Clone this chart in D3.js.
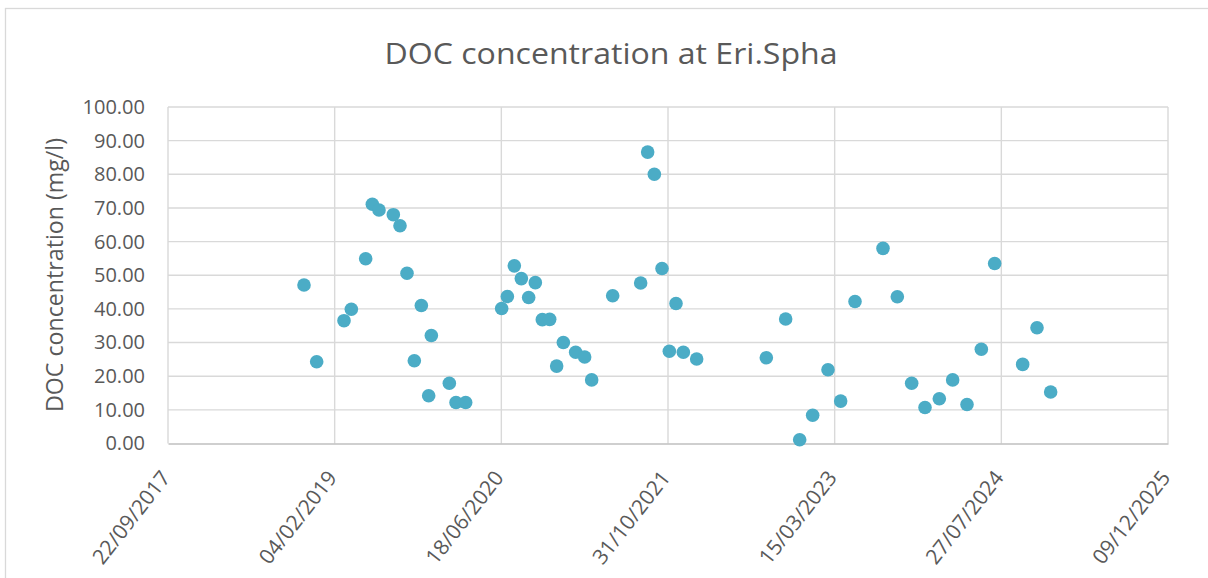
<!DOCTYPE html>
<html>
<head>
<meta charset="utf-8">
<script src="https://cdn.jsdelivr.net/npm/d3@7"></script>
<style>
  html, body { margin: 0; padding: 0; background: #fff; }
  svg { display: block; }
  text { font-family: "Open Sans", "Noto Sans", sans-serif; fill: #595959; }
</style>
</head>
<body>
<svg id="chart" width="1208" height="578"></svg>
<script>
// Sampling dates and measured DOC concentrations (mg/l)
const sampleDates = [
  "2018-11-04","2018-12-12",
  "2019-03-04","2019-03-26","2019-05-08","2019-05-28","2019-06-17","2019-07-30",
  "2019-08-19","2019-09-09","2019-10-01","2019-10-22","2019-11-13","2019-11-21",
  "2020-01-14","2020-02-03","2020-03-03","2020-06-19","2020-07-06","2020-07-27",
  "2020-08-17","2020-09-08","2020-09-28","2020-10-19","2020-11-10","2020-12-01","2020-12-21",
  "2021-01-27","2021-02-23","2021-03-16","2021-05-18","2021-08-10","2021-08-31",
  "2021-09-20","2021-10-13","2021-11-04","2021-11-24","2021-12-16",
  "2022-01-25","2022-08-22","2022-10-19","2022-11-30",
  "2023-01-08","2023-02-23","2023-04-02","2023-05-15","2023-08-07","2023-09-19",
  "2023-11-01","2023-12-11",
  "2024-01-23","2024-03-03","2024-04-15","2024-05-28","2024-07-07","2024-09-29",
  "2024-11-11","2024-12-22"
];
const docValues = [
  47.1, 24.3,
  36.5, 39.9, 54.9, 71.1, 69.4, 68.0,
  64.7, 50.6, 24.6, 41.0, 14.2, 32.1,
  17.9, 12.2, 12.2, 40.1, 43.7, 52.8,
  49.0, 43.4, 47.8, 36.8, 36.9, 23.0, 30.0,
  27.1, 25.7, 18.9, 43.9, 47.7, 86.6,
  80.0, 52.0, 27.4, 41.6, 27.1,
  25.1, 25.5, 37.0, 1.1,
  8.4, 21.9, 12.6, 42.2, 58.0, 43.6,
  17.9, 10.7,
  13.3, 18.9, 11.6, 28.0, 53.5, 23.5,
  34.4, 15.3
];
// Date axis tick labels (every 500 days)
const xTickLabels = ["22/09/2017","04/02/2019","18/06/2020","31/10/2021","15/03/2023","27/07/2024","09/12/2025"];
const yTickValues = [0, 10, 20, 30, 40, 50, 60, 70, 80, 90, 100];

const titleText = "DOC concentration at Eri.Spha";
const yTitleText = "DOC concentration (mg/l)";

const parseISO = d3.utcParse("%Y-%m-%d");
const parseTick = d3.utcParse("%d/%m/%Y");
const fmtTick = d3.utcFormat("%d/%m/%Y");

const points = sampleDates.map((d, i) => ({ date: parseISO(d), value: docValues[i] }));
const xTicks = xTickLabels.map(parseTick);

const svg = d3.select("#chart");
const plot = { left: 168, right: 1168, top: 107, bottom: 443.5 };

// chart frame
svg.append("rect")
  .attr("x", 5.5).attr("y", 8.5)
  .attr("width", 1230).attr("height", 600)
  .attr("fill", "#fff").attr("stroke", "#d9d9d9").attr("stroke-width", 1.3);

const x = d3.scaleUtc()
  .domain([xTicks[0], xTicks[xTicks.length - 1]])
  .range([plot.left, plot.right]);
const y = d3.scaleLinear()
  .domain([0, 100])
  .range([plot.bottom, plot.top]);

// horizontal gridlines
svg.append("g")
  .selectAll("line")
  .data(yTickValues.filter(v => v > 0))
  .join("line")
  .attr("x1", plot.left).attr("x2", plot.right)
  .attr("y1", d => y(d)).attr("y2", d => y(d))
  .attr("stroke", "#d9d9d9").attr("stroke-width", 1.4);

// vertical gridlines
svg.append("g")
  .selectAll("line")
  .data(xTicks)
  .join("line")
  .attr("x1", d => x(d)).attr("x2", d => x(d))
  .attr("y1", plot.top).attr("y2", plot.bottom)
  .attr("stroke", "#d9d9d9").attr("stroke-width", 1.4);

// x axis
const xAxis = svg.append("g")
  .attr("transform", `translate(0,${plot.bottom})`)
  .call(d3.axisBottom(x).tickValues(xTicks).tickFormat(fmtTick).tickSize(0));
xAxis.select(".domain").attr("stroke", "#bfbfbf").attr("stroke-width", 1.6);
xAxis.selectAll("text")
  .attr("font-size", 21)
  .attr("fill", "#595959")
  .attr("text-anchor", "end")
  .attr("dy", "0.35em")
  .attr("y", 0)
  .attr("transform", "translate(-3,30) rotate(-52)");

// y axis
const yAxis = svg.append("g")
  .attr("transform", `translate(${plot.left},0)`)
  .call(d3.axisLeft(y).tickValues(yTickValues).tickFormat(d3.format(".2f")).tickSize(0).tickPadding(23));
yAxis.select(".domain").remove();
yAxis.selectAll("text").attr("font-size", 20).attr("fill", "#595959");

// data points
svg.append("g")
  .selectAll("circle")
  .data(points)
  .join("circle")
  .attr("cx", d => x(d.date))
  .attr("cy", d => y(d.value))
  .attr("r", 6.8)
  .attr("fill", "#4bacc6");

// title
svg.append("text")
  .attr("x", 611).attr("y", 64)
  .attr("text-anchor", "middle")
  .attr("font-size", 30)
  .attr("textLength", 453)
  .attr("lengthAdjust", "spacingAndGlyphs")
  .text(titleText);

// y axis title
svg.append("text")
  .attr("transform", "translate(63,275) rotate(-90)")
  .attr("text-anchor", "middle")
  .attr("font-size", 23)
  .attr("textLength", 274)
  .attr("lengthAdjust", "spacingAndGlyphs")
  .text(yTitleText);
</script>
</body>
</html>
